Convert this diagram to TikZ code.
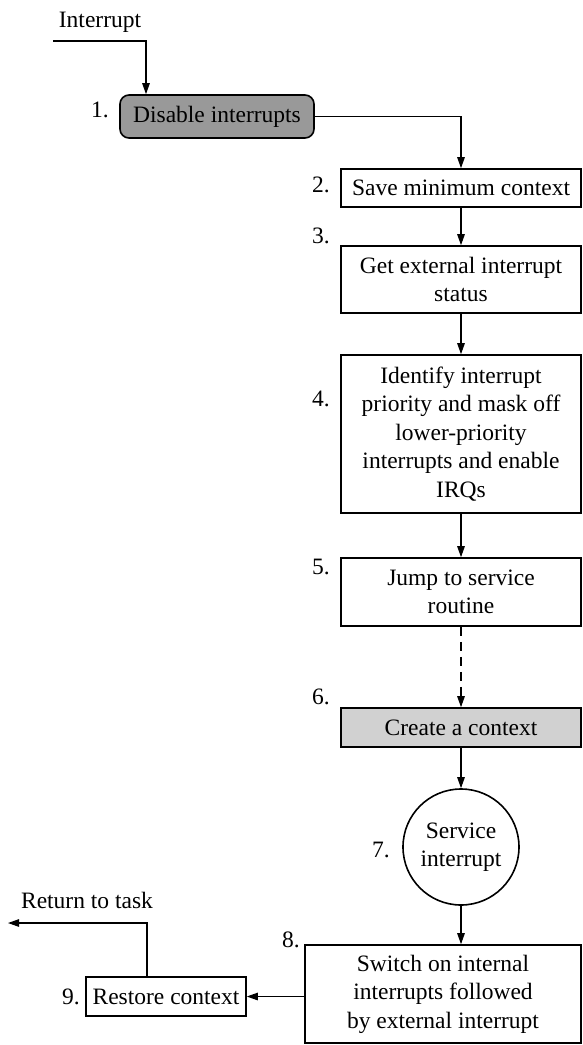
\documentclass[tikz,border=0pt]{standalone}
\usepackage{fontspec}
\setmainfont{Liberation Serif}
\usetikzlibrary{arrows.meta}
\begin{document}
\begin{tikzpicture}[x=1pt,y=-1pt,
  font=\fontsize{23.5}{28.5}\selectfont,
  box/.style={draw,line width=1.6pt,inner sep=0pt,align=center,minimum width=240pt},
  arr/.style={line width=1.1pt,-{Triangle[length=11pt,width=7.5pt]}},
  lbl/.style={anchor=east,inner sep=0pt}]
\useasboundingbox (0,0) rectangle (582,1045);
\node[inner sep=0pt] (tin) at (100,22) {Interrupt};
\node[box,minimum width=194pt,minimum height=43pt,rounded corners=9pt,fill=black!40] (b1) at (217,116.5) {Disable interrupts};
\node[box,minimum height=38pt] (b2) at (461,188) {Save minimum context};
\node[box,minimum height=67pt] (b3) at (461,279.5) {Get external interrupt\\status};
\node[box,minimum height=158pt] (b4) at (461,434) {Identify interrupt\\priority and mask off\\lower-priority\\interrupts and enable\\IRQs};
\node[box,minimum height=68pt] (b5) at (461,592) {Jump to service\\routine};
\node[box,minimum height=39pt,fill=black!18] (b6) at (461,727.5) {Create a context};
\node[draw,circle,line width=1.6pt,minimum size=116pt,inner sep=0pt,align=center] (b7) at (461,847) {Service\\interrupt};
\node[box,minimum width=276pt,minimum height=98pt] (b8) at (443,994) {Switch on internal\\interrupts followed\\by external interrupt};
\node[box,minimum width=160pt,minimum height=39pt] (b9) at (166,996.5) {Restore context};
\node[inner sep=0pt] (tret) at (87,900) {Return to task};
\node[lbl] (l1) at (109,110) {1.};
\node[lbl] (l2) at (330,185) {2.};
\node[lbl] (l3) at (330,236) {3.};
\node[lbl] (l4) at (330,399) {4.};
\node[lbl] (l5) at (330,567) {5.};
\node[lbl] (l6) at (330,697) {6.};
\node[lbl] (l7) at (390,850) {7.};
\node[lbl] (l8) at (300,940) {8.};
\node[lbl] (l9) at (80,997) {9.};
\coordinate (cin) at (53,41);
\coordinate (cret) at (8,923);
\draw[arr] (cin) -| ([xshift=-71pt]b1.north);
\draw[arr] (b1.east) -| (b2.north);
\draw[arr] (b2) -- (b3);
\draw[arr] (b3) -- (b4);
\draw[arr] (b4) -- (b5);
\draw[arr,dash pattern=on 9pt off 6pt] (b5) -- (b6);
\draw[arr] (b6) -- (b7);
\draw[arr] (b7) -- (b8.north -| b7);
\draw[arr] (b8.west |- b9) -- (b9.east);
\draw[arr] ([xshift=-19pt]b9.north) |- (cret);
\end{tikzpicture}
\end{document}
